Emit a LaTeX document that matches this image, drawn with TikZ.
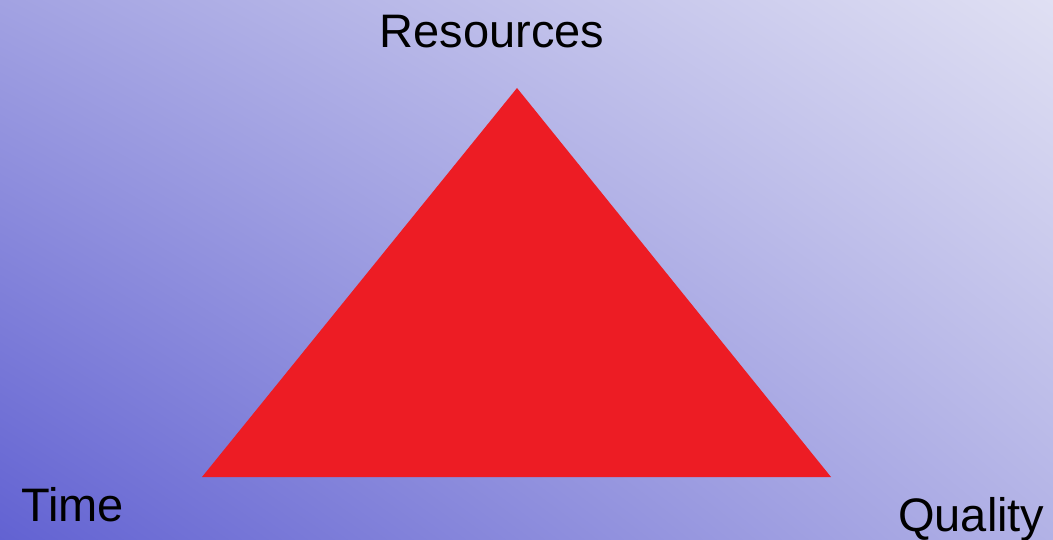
\documentclass[tikz,border=0pt]{standalone}
\usepackage{fontspec}
\setmainfont{Liberation Sans}
\usetikzlibrary{shadings}
\begin{document}
\begin{tikzpicture}[x=1pt, y=-1pt, font=\fontsize{47}{56}\selectfont]
			\definecolor{tribred}{RGB}{237, 28, 36}
			\definecolor{bgdark}{RGB}{98, 98, 210}
			\definecolor{bglight}{RGB}{224, 224, 243}
			\definecolor{bgmidA}{RGB}{162, 162, 226}
			\definecolor{bgmidB}{RGB}{178, 178, 230}
			
			% 背景（渐变）
			\shade[lower left=bgdark, upper right=bglight, upper left=bgmidA, lower right=bgmidB]
			(0,540) rectangle (1053,0);
			\useasboundingbox (0,0) rectangle (1053,540);
			
			% 三角形顶点
			\coordinate (top) at (517,88);
			\coordinate (left) at (202,477);
			\coordinate (right) at (831,477);
			\fill[tribred] (top) -- (left) -- (right) -- cycle;
			
			% 标签
			\node[anchor=base, inner sep=0pt] (res) at (492,48) {Resources};
			\node[anchor=base west, inner sep=0pt] (time) at (21,521) {Time};
			\node[anchor=base west, inner sep=0pt] (qual) at (898,531) {Quality};
		\end{tikzpicture}
\end{document}
